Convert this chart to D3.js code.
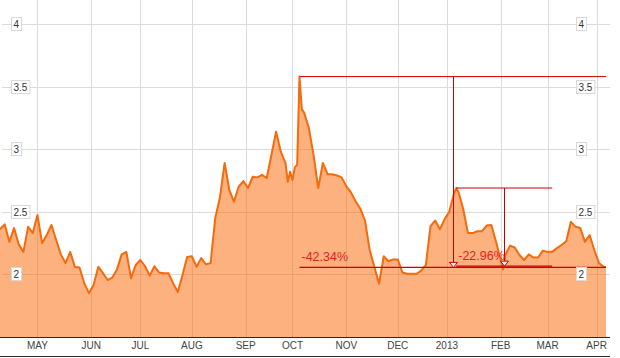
<!DOCTYPE html>
<html><head><meta charset="utf-8">
<script src="https://cdn.jsdelivr.net/npm/d3@7"></script>
<style>html,body{margin:0;padding:0;background:#fff;}svg{display:block;}</style>
</head><body>
<svg id="c" width="620" height="358"></svg>
<script>
// ---- data ----
const dates = [
"2012-04-09","2012-04-11","2012-04-13","2012-04-17","2012-04-19","2012-04-23","2012-04-25","2012-04-27",
"2012-05-01","2012-05-03","2012-05-07","2012-05-09","2012-05-11","2012-05-15","2012-05-17","2012-05-21","2012-05-23","2012-05-25","2012-05-29","2012-05-31",
"2012-06-04","2012-06-06","2012-06-08","2012-06-12","2012-06-14","2012-06-18","2012-06-20","2012-06-22","2012-06-26","2012-06-28",
"2012-07-02","2012-07-04","2012-07-06","2012-07-10","2012-07-12","2012-07-16","2012-07-18","2012-07-20","2012-07-24","2012-07-26","2012-07-30",
"2012-08-01","2012-08-03","2012-08-07","2012-08-09","2012-08-13","2012-08-15","2012-08-17","2012-08-21","2012-08-23","2012-08-27","2012-08-29","2012-08-31",
"2012-09-04","2012-09-06","2012-09-10","2012-09-12","2012-09-14","2012-09-18","2012-09-20","2012-09-24","2012-09-26","2012-09-27","2012-09-28",
"2012-10-01","2012-10-02","2012-10-03","2012-10-04","2012-10-05","2012-10-08","2012-10-10","2012-10-12","2012-10-16","2012-10-18","2012-10-22","2012-10-24","2012-10-26","2012-10-30",
"2012-11-01","2012-11-05","2012-11-07","2012-11-09","2012-11-13","2012-11-15","2012-11-19","2012-11-21","2012-11-23","2012-11-27","2012-11-29",
"2012-12-03","2012-12-05","2012-12-07","2012-12-11","2012-12-13","2012-12-17","2012-12-19","2012-12-21","2012-12-25","2012-12-27","2012-12-31",
"2013-01-02","2013-01-04","2013-01-07","2013-01-08","2013-01-10","2013-01-14","2013-01-16","2013-01-18","2013-01-22","2013-01-24","2013-01-28","2013-01-30",
"2013-02-01","2013-02-04","2013-02-05","2013-02-07","2013-02-11","2013-02-13","2013-02-15","2013-02-19","2013-02-21","2013-02-25","2013-02-27",
"2013-03-01","2013-03-05","2013-03-07","2013-03-11","2013-03-13","2013-03-15","2013-03-19","2013-03-21","2013-03-25","2013-03-27","2013-03-29",
"2013-04-02","2013-04-04","2013-04-05"
];
const prices = [
2.36,2.40,2.26,2.37,2.24,2.18,2.38,2.33,
2.475,2.25,2.315,2.395,2.275,2.16,2.09,2.18,2.06,2.055,1.93,1.85,
1.915,2.06,2.01,1.955,1.975,2.04,2.16,2.18,1.97,2.075,
2.115,2.065,1.99,2.065,2.015,2.01,2.01,1.93,1.86,1.995,2.14,
2.145,2.06,2.13,2.08,2.09,2.45,2.615,2.89,2.675,2.58,2.70,2.745,
2.69,2.78,2.775,2.795,2.77,2.955,3.14,2.98,2.89,2.74,2.82,
2.755,2.855,2.875,3.58,3.32,3.29,3.17,2.955,2.69,2.89,2.80,2.80,2.79,2.775,
2.705,2.655,2.585,2.525,2.43,2.195,2.06,1.925,2.145,2.105,2.12,
2.12,2.015,2.005,2.005,2.005,2.03,2.075,2.385,2.43,2.36,2.44,
2.50,2.645,2.69,2.655,2.52,2.33,2.33,2.345,2.345,2.39,2.395,2.26,
2.115,2.04,2.155,2.23,2.215,2.155,2.115,2.16,2.135,2.135,2.19,
2.18,2.18,2.21,2.235,2.265,2.42,2.38,2.37,2.26,2.315,2.195,
2.09,2.06,2.06
];
const tickDates = ["2012-05-01","2012-06-01","2012-07-02","2012-08-01","2012-09-03","2012-10-01","2012-11-01","2012-12-03","2013-01-01","2013-02-01","2013-03-01","2013-04-01"];
const tickLabels = ["MAY","JUN","JUL","AUG","SEP","OCT","NOV","DEC","2013","FEB","MAR","APR"];
const yTicks = [2, 2.5, 3, 3.5, 4];
const annStart = ["2012-10-04","2013-01-07"];
const annEnd = ["2013-04-05","2013-03-05"];
const annTop = [3.58, 2.69];
const annBottom = [2.056, 2.066];
const annLabels = ["-42.34%","-22.96%"];

// ---- scales ----
const parse = d3.timeParse("%Y-%m-%d");
const base = parse("2012-05-01");
function wd(s){ const d = parse(s);
  return d3.timeDay.count(base,d) - d3.timeSaturday.count(base,d) - d3.timeSunday.count(base,d); }

const data = dates.map((d,i)=>({i: wd(d), v: prices[i]}));
const x = d3.scaleLinear().domain([wd(dates[0]), wd(dates[dates.length-1])]).range([0, 606]);
const y = d3.scaleLinear().domain([1.5, 4]).range([337, 24]);

const svg = d3.select("#c");
const gridC = "#dcdcdc";

// gridlines
svg.append("g").selectAll("line").data(yTicks).join("line")
  .attr("x1",2).attr("x2",610)
  .attr("y1",d=>Math.round(y(d))+0.5).attr("y2",d=>Math.round(y(d))+0.5)
  .attr("stroke",gridC).attr("stroke-width",1);
svg.append("g").selectAll("line").data(tickDates).join("line")
  .attr("x1",d=>Math.round(x(wd(d)))+0.5).attr("x2",d=>Math.round(x(wd(d)))+0.5)
  .attr("y1",0).attr("y2",337)
  .attr("stroke",gridC).attr("stroke-width",1);

// area + line
svg.append("path").datum(data)
  .attr("d", d3.area().x(d=>x(d.i)).y0(y(1.5)).y1(d=>y(d.v)))
  .attr("fill","rgb(251,100,0)").attr("fill-opacity",0.5);
svg.append("path").datum(data)
  .attr("d", d3.line().x(d=>x(d.i)).y(d=>y(d.v)))
  .attr("fill","none").attr("stroke","#f46a0c").attr("stroke-width",2).attr("stroke-linejoin","round");

// annotations
const lineC = "#cc0000", textC = "#e31e1e";
const ann = annStart.map((s,k)=>({x0:x(wd(s)), x1:x(wd(annEnd[k])), t:y(annTop[k]), b:y(annBottom[k]), lab:annLabels[k]}));
const ag = svg.append("g");
ann.forEach(a=>{
  const xm = Math.round((a.x0+a.x1)/2)+0.5;
  ag.append("line").attr("x1",a.x0).attr("x2",a.x1).attr("y1",a.t).attr("y2",a.t).attr("stroke",lineC).attr("stroke-width",1);
  ag.append("line").attr("x1",a.x0).attr("x2",a.x1).attr("y1",a.b).attr("y2",a.b).attr("stroke",lineC).attr("stroke-width",1.2);
  ag.append("line").attr("x1",xm).attr("x2",xm).attr("y1",a.t).attr("y2",a.b-5).attr("stroke",lineC).attr("stroke-width",1);
  ag.append("path").attr("d",`M${xm-4},${a.b-5}L${xm+4},${a.b-5}L${xm},${a.b}Z`)
    .attr("fill","#fff").attr("stroke",lineC).attr("stroke-width",1);
  ag.append("text").attr("x",a.x0+2).attr("y",a.b-6).text(a.lab)
    .attr("fill",textC).attr("font-family","'Liberation Sans', Arial, sans-serif").attr("font-size",12.5);
});

// axis lines
svg.append("line").attr("x1",0).attr("x2",610).attr("y1",337.5).attr("y2",337.5).attr("stroke","#2a2a2a");
svg.append("line").attr("x1",0).attr("x2",610).attr("y1",356.5).attr("y2",356.5).attr("stroke","#2a2a2a");

// month labels
svg.append("g").selectAll("text").data(tickDates).join("text")
  .attr("x",d=>x(wd(d))).attr("y",349).attr("text-anchor","middle")
  .attr("font-family","'Liberation Sans', Arial, sans-serif").attr("font-size",10).attr("fill","#444")
  .text((d,i)=>tickLabels[i]);

// y labels (boxed, both sides)
const fmt = d=> String(d);
[11, 576].forEach(lx=>{
  const g = svg.append("g");
  yTicks.forEach(v=>{
    const yy = Math.round(y(v));
    const t = g.append("text").attr("x",lx+2.5).attr("y",yy+3.5)
      .attr("font-family","'Liberation Sans', Arial, sans-serif").attr("font-size",10).attr("fill","#333").text(fmt(v));
    const w = t.node().getComputedTextLength();
    g.insert("rect","text").attr("x",lx+0.5).attr("y",yy-6.5).attr("width",w+4.5).attr("height",13)
      .attr("fill","#fff").attr("stroke","#d8d8d8").attr("stroke-width",1);
  });
});
</script>
</body></html>
